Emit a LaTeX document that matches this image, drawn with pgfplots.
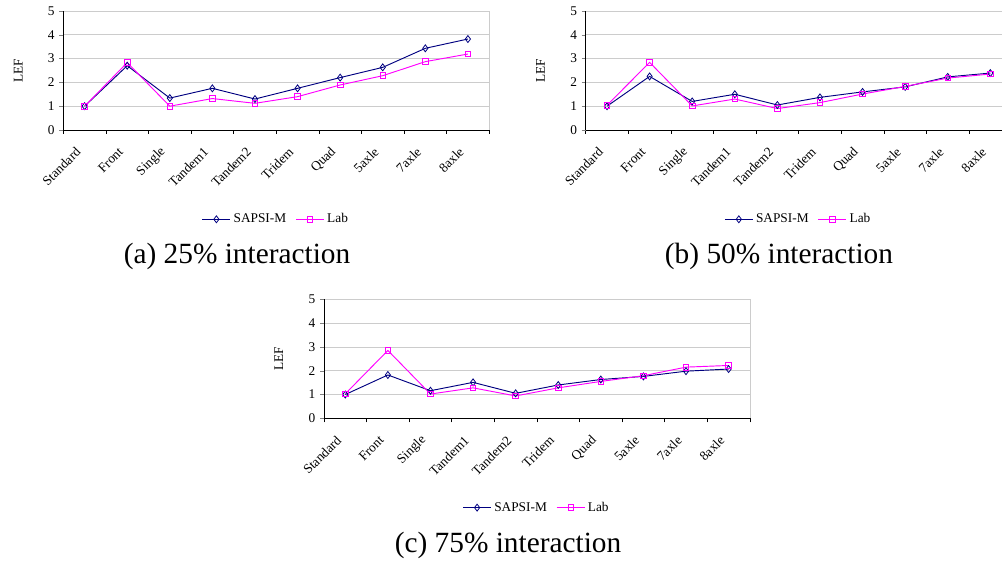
\documentclass[border=0pt]{standalone}
\usepackage{pgfplots}
\pgfplotsset{compat=1.18}
\usepackage{fontspec}
\setmainfont{Liberation Serif}
\definecolor{navyc}{RGB}{0,0,128}
\definecolor{magc}{RGB}{255,0,255}
\pgfplotsset{
  lefaxis/.style={
    scale only axis, width=319.4pt, height=89.3pt,
    anchor=south west,
    xmin=-0.5, xmax=9.5, ymin=0, ymax=5,
    ytick={0,1,2,3,4,5},
    xtick={0,...,9},
    xticklabels={Standard,Front,Single,Tandem1,Tandem2,Tridem,Quad,5axle,7axle,8axle},
    minor xtick={-0.5,0.5,...,9.5},
    major x tick style={draw=none},
    minor x tick style={black, thin},
    tick align=outside,
    major tick length=3pt, minor tick length=3pt,
    axis x line*=bottom, axis y line*=left,
    axis line style={black, thin},
    y axis line style={-}, x axis line style={-},
    ymajorgrids, grid style={gray!40, thin},
    font=\fontsize{10}{12}\selectfont,
    ticklabel style={font=\fontsize{10}{12}\selectfont},
    /pgf/number format/assume math mode=true,
    xticklabel style={xshift=-4pt, yshift=-11pt, rotate=45, anchor=east, inner sep=1pt},
    ylabel={LEF},
    ylabel style={at={(axis description cs:-0.106,0.5)}, anchor=center},
    legend style={at={(0.5,-0.75)}, anchor=center, draw=none, fill=none,
      legend columns=2, font=\fontsize{10}{12}\selectfont,
      /tikz/every even column/.append style={column sep=5pt}},
    legend image code/.code={\draw[mark repeat=2,mark phase=2] plot coordinates {(0cm,0cm) (0.37cm,0cm) (0.74cm,0cm)};},
    clip=false,
    every axis plot/.append style={line width=0.7pt},
  },
  sapsi/.style={color=navyc, mark=diamond, mark size=2.6pt, mark options={solid, fill=white, line width=0.6pt}},
  lab/.style={color=magc, mark=square, mark size=2.1pt, mark options={solid, fill=white, line width=0.6pt}},
}
\begin{document}
\begin{tikzpicture}
% (a)
\begin{axis}[lefaxis, at={(47.5pt,324.75pt)}]
\addplot[sapsi] coordinates {(0,1.0) (1,2.70) (2,1.34) (3,1.75) (4,1.30) (5,1.75) (6,2.20) (7,2.63) (8,3.43) (9,3.82)};
\addplot[lab] coordinates {(0,1.0) (1,2.83) (2,1.0) (3,1.32) (4,1.12) (5,1.40) (6,1.89) (7,2.28) (8,2.87) (9,3.19)};
\draw[gray!40, thin] (rel axis cs:1,0) -- (rel axis cs:1,1);
\legend{SAPSI-M,Lab}
\end{axis}
% (b)
\begin{axis}[lefaxis, at={(439.3pt,324.75pt)}]
\addplot[sapsi] coordinates {(0,1.0) (1,2.25) (2,1.20) (3,1.50) (4,1.05) (5,1.37) (6,1.60) (7,1.81) (8,2.23) (9,2.39)};
\addplot[lab] coordinates {(0,1.04) (1,2.84) (2,1.01) (3,1.30) (4,0.90) (5,1.15) (6,1.51) (7,1.83) (8,2.18) (9,2.35)};
\draw[gray!40, thin] (rel axis cs:1,0) -- (rel axis cs:1,1);
\legend{SAPSI-M,Lab}
\end{axis}
% (c)
\begin{axis}[lefaxis, at={(243pt,108.5pt)}]
\addplot[sapsi] coordinates {(0,1.0) (1,1.82) (2,1.16) (3,1.51) (4,1.05) (5,1.40) (6,1.63) (7,1.76) (8,1.98) (9,2.07)};
\addplot[lab] coordinates {(0,1.03) (1,2.85) (2,1.02) (3,1.28) (4,0.94) (5,1.28) (6,1.55) (7,1.79) (8,2.15) (9,2.22)};
\draw[gray!40, thin] (rel axis cs:1,0) -- (rel axis cs:1,1);
\legend{SAPSI-M,Lab}
\end{axis}
\node[font=\fontsize{22}{26}\selectfont] at (177.75pt,230.25pt) {(a) 25\% interaction};
\node[font=\fontsize{22}{26}\selectfont] at (584.25pt,230.25pt) {(b) 50\% interaction};
\node[font=\fontsize{22}{26}\selectfont] at (381pt,13pt) {(c) 75\% interaction};
\pgfresetboundingbox
\useasboundingbox (0,0) rectangle (751.5pt,422.25pt);
\end{tikzpicture}
\end{document}
